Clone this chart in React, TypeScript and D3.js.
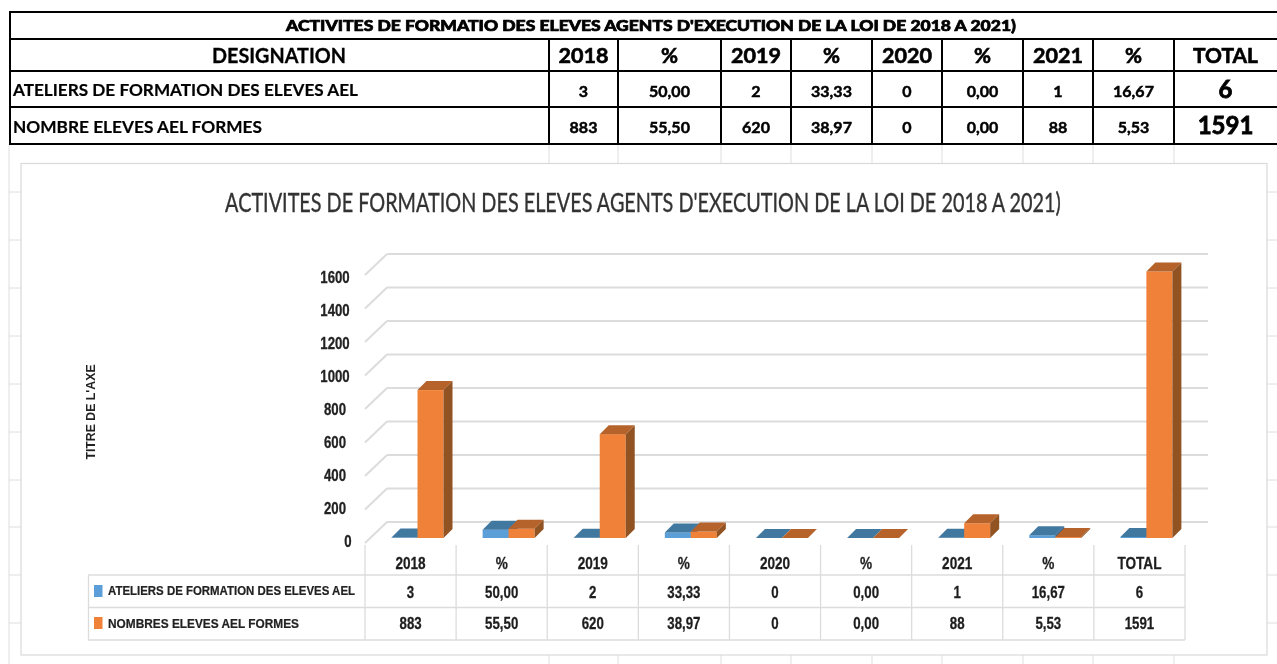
import React from "react";
import * as d3 from "d3";

const tableTitle = "ACTIVITES DE FORMATIO DES ELEVES AGENTS D'EXECUTION DE LA LOI DE 2018 A 2021)";
const chartTitle = "ACTIVITES DE FORMATION DES ELEVES AGENTS D'EXECUTION DE LA LOI DE 2018 A 2021)";
const headers = ["DESIGNATION", "2018", "%", "2019", "%", "2020", "%", "2021", "%", "TOTAL"];
const rowLabels = ["ATELIERS DE FORMATION DES ELEVES AEL", "NOMBRE ELEVES AEL FORMES"];
const row1Text = ["3", "50,00", "2", "33,33", "0", "0,00", "1", "16,67", "6"];
const row2Text = ["883", "55,50", "620", "38,97", "0", "0,00", "88", "5,53", "1591"];
const columnEdges = [9, 549, 618, 721, 791, 872, 942, 1023, 1093, 1174, 1277];
const rowEdges = [12, 39, 71, 107, 144];

const categories = ["2018", "%", "2019", "%", "2020", "%", "2021", "%", "TOTAL"];
const ateliers = [3, 50, 2, 33.33, 0, 0, 1, 16.67, 6];
const eleves = [883, 55.5, 620, 38.97, 0, 0, 88, 5.53, 1591];
const ateliersText = ["3", "50,00", "2", "33,33", "0", "0,00", "1", "16,67", "6"];
const elevesText = ["883", "55,50", "620", "38,97", "0", "0,00", "88", "5,53", "1591"];
const yTicks = [0, 200, 400, 600, 800, 1000, 1200, 1400, 1600];
const legendNames = ["ATELIERS DE FORMATION DES ELEVES AEL", "NOMBRES ELEVES AEL FORMES"];
const bgRows = [192, 240, 288, 336, 384, 432, 480, 527, 575, 623];

const BLUE = { front: "#5b9fd8", top: "#41789f", side: "#36648a" };
const ORANGE = { front: "#f08138", top: "#b5632c", side: "#925222" };
const GRID = "#dcdcdc";
const LATO = "Lato, Carlito, sans-serif";
const NARROW = "'Liberation Sans', Arial, sans-serif";

const x = d3.scaleBand<number>().domain(d3.range(categories.length)).range([365, 1185]);
const yBar = d3.scaleLinear().domain([0, 1600]).range([538, 270]);
const yFront = d3.scaleLinear().domain([0, 1600]).range([543, 275]);
const yBack = d3.scaleLinear().domain([0, 1600]).range([522, 254]);
const yLabel = d3.scaleLinear().domain([0, 1600]).range([547, 283]);

const BAR_W = 26;
const DEPTH = 9;
const poly = (pts: number[][]) => d3.line()(pts as [number, number][]) + "Z";

function Bar({ left, value, c }: { left: number; value: number; c: typeof BLUE }) {
  const t = yBar(value);
  const b = yBar(0);
  const r = left + BAR_W;
  return (
    <g>
      <rect x={left} y={t} width={BAR_W} height={b - t} fill={c.front} />
      <path d={poly([[left, t], [r, t], [r + DEPTH, t - DEPTH], [left + DEPTH, t - DEPTH]])} fill={c.top} />
      <path d={poly([[r, t], [r + DEPTH, t - DEPTH], [r + DEPTH, b - DEPTH], [r, b]])} fill={c.side} />
    </g>
  );
}

function Squeezed({ cx, y, sx, size, children, fill = "#1f1f1f", heavy = 0.3 }: any) {
  return (
    <text transform={`translate(${cx},${y}) scale(${sx},1)`} textAnchor="middle" fontFamily={NARROW}
      fontWeight={700} fontSize={size} fill={fill} stroke={fill} strokeWidth={heavy}>{children}</text>
  );
}

export default function App() {
  const colCenter = (i: number) => (columnEdges[i] + columnEdges[i + 1]) / 2;
  return (
    <svg width={1277} height={664} viewBox="0 0 1277 664"
      style={{ position: "fixed", left: 0, top: 0, background: "#fff", display: "block" }}>
      <defs>
        <filter id="soft" x="-2%" y="-2%" width="104%" height="104%">
          <feGaussianBlur stdDeviation="0.45" />
        </filter>
      </defs>
      <g filter="url(#soft)">
        {/* background sheet grid */}
        {columnEdges.slice(1, -1).map((e, i) => (
          <g key={i}>
            <line x1={e} x2={e} y1={144} y2={163} stroke="#dedede" />
            <line x1={e} x2={e} y1={655} y2={664} stroke="#dedede" />
          </g>
        ))}
        <line x1={9} x2={9} y1={144} y2={664} stroke="#dedede" />
        {bgRows.map((r) => (
          <g key={r}>
            <line x1={9} x2={21} y1={r} y2={r} stroke="#dedede" />
            <line x1={1267} x2={1277} y1={r} y2={r} stroke="#dedede" />
          </g>
        ))}
        <rect x={21} y={163.5} width={1246} height={491.5} fill="#fff" stroke="#d9d9d9" strokeWidth={1.2} />

        {/* top table */}
        {rowEdges.map((r) => (
          <line key={r} x1={9} x2={1277} y1={r} y2={r} stroke="#000" strokeWidth={2} />
        ))}
        <line x1={10} x2={10} y1={12} y2={144} stroke="#000" strokeWidth={2} />
        {columnEdges.slice(1, -1).map((e) => (
          <line key={e} x1={e} x2={e} y1={39} y2={144} stroke="#000" strokeWidth={2} />
        ))}
        <text transform="translate(651,31) scale(0.82,1)" textAnchor="middle" fontFamily={LATO} fontWeight={900} fontSize={15}
          stroke="#000" strokeWidth={0.7} textLength={890} lengthAdjust="spacingAndGlyphs">{tableTitle}</text>
        {headers.map((h, i) => (
          <text key={i} x={i === 0 ? 279 : colCenter(i)} y={63} textAnchor="middle" fontFamily={LATO} fontWeight={700}
            fontSize={i === 0 ? 21 : 20} fill="#000" stroke="#000" strokeWidth={h === "DESIGNATION" ? 0.3 : 0.6}
            textLength={i === 0 ? 134 : h === "%" ? 17 : h === "TOTAL" ? 65 : 50}
            lengthAdjust="spacingAndGlyphs">{h}</text>
        ))}
        {rowLabels.map((l, i) => (
          <text key={l} x={13} y={i === 0 ? 96 : 133} fontFamily={LATO} fontWeight={700} fontSize={17.5} fill="#000"
            stroke="#000" strokeWidth={0.2} textLength={i === 0 ? 345 : 249} lengthAdjust="spacingAndGlyphs">{l}</text>
        ))}
        {[row1Text, row2Text].map((row, ri) =>
          row.map((v, i) => (
            <text key={ri + "-" + i} x={colCenter(i + 1)} y={(ri === 0 ? 97 : 133) + (i === 8 ? 1 : 0)} textAnchor="middle"
              fontFamily={LATO} fontWeight={700} fontSize={i === 8 ? 24 : 16} fill="#000" stroke="#000"
              strokeWidth={i === 8 ? 0.8 : 0.5}>{v}</text>
          ))
        )}

        {/* chart title */}
        <text transform="translate(643,212) scale(0.7,1)" textAnchor="middle" fontFamily={LATO} fontSize={26} fill="#333"
          stroke="#333" strokeWidth={0.35} textLength={1194} lengthAdjust="spacingAndGlyphs">{chartTitle}</text>

        {/* 3D gridlines */}
        {yTicks.map((t) => (
          <g key={t}>
            <line x1={x(0)} y1={yFront(t)} x2={x(0)! + 22} y2={yBack(t)} stroke={GRID} strokeWidth={2} />
            <line x1={x(0)! + 22} y1={yBack(t)} x2={1208} y2={yBack(t)} stroke={GRID} strokeWidth={2} />
          </g>
        ))}
        {yTicks.map((t) => (
          <Squeezed key={t} cx={t === 0 ? 348 : 335} y={yLabel(t)} sx={0.8} size={16.5} fill="#222">{t}</Squeezed>
        ))}
        <text transform="translate(95,412) rotate(-90) scale(0.8,1)" textAnchor="middle" fontFamily={NARROW} fontWeight={700}
          fontSize={12} fill="#222" textLength={119} lengthAdjust="spacingAndGlyphs">TITRE DE L'AXE</text>

        {/* bars */}
        {categories.map((_, i) => (
          <g key={i}>
            <Bar left={x(i)! + 26.5} value={ateliers[i]} c={BLUE} />
            <Bar left={x(i)! + 26.5 + BAR_W} value={eleves[i]} c={ORANGE} />
          </g>
        ))}

        {/* data table */}
        {[575, 607.5, 640].map((r) => (
          <line key={r} x1={88} x2={1185} y1={r} y2={r} stroke={GRID} strokeWidth={1.3} />
        ))}
        <line x1={88.5} x2={88.5} y1={575} y2={640} stroke={GRID} strokeWidth={1.3} />
        {d3.range(categories.length + 1).map((i) => {
          const e = i < categories.length ? x(i)! : 1185;
          return <line key={i} x1={e} x2={e} y1={545} y2={640} stroke={GRID} strokeWidth={1.3} />;
        })}
        {categories.map((c, i) => {
          const cx = x(i)! + x.bandwidth() / 2;
          return (
            <g key={i}>
              <Squeezed cx={cx} y={569} sx={0.8} size={17}>{c}</Squeezed>
              <Squeezed cx={cx} y={598} sx={0.78} size={17}>{ateliersText[i]}</Squeezed>
              <Squeezed cx={cx} y={629} sx={0.78} size={17}>{elevesText[i]}</Squeezed>
            </g>
          );
        })}
        {legendNames.map((n, i) => (
          <g key={n}>
            <rect x={94} y={i === 0 ? 585 : 617} width={8.5} height={12} fill={i === 0 ? BLUE.front : ORANGE.front} />
            <text x={108} y={i === 0 ? 595 : 628} fontFamily={NARROW} fontWeight={700} fontSize={12} fill="#222"
              stroke="#222" strokeWidth={0.2} textLength={i === 0 ? 247 : 191} lengthAdjust="spacingAndGlyphs">{n}</text>
          </g>
        ))}
      </g>
    </svg>
  );
}
